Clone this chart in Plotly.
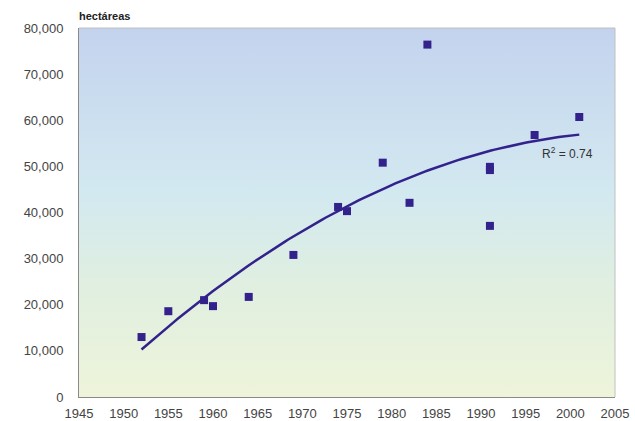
import numpy as np
import plotly.graph_objects as go

# Surface planted per survey year (hectares)
years = [1952, 1955, 1959, 1960, 1964, 1969, 1974, 1975, 1979, 1982, 1984,
         1991, 1991, 1991, 1996, 2001]
hectares = [13000, 18600, 21000, 19700, 21700, 30800, 41200, 40300, 50800,
            42100, 76400, 49900, 49200, 37100, 56800, 60700]

x_ticks = list(range(1945, 2006, 5))
y_ticks = list(range(0, 80001, 10000))

# Second-order polynomial trend
coef = np.polyfit(years, hectares, 2)
poly = np.poly1d(coef)
fit_x = np.linspace(min(years), max(years), 120)
fit_y = poly(fit_x)
pred = poly(np.array(years))
ss_res = np.sum((np.array(hectares) - pred) ** 2)
ss_tot = np.sum((np.array(hectares) - np.mean(hectares)) ** 2)
r2 = 1 - ss_res / ss_tot

ink = "#33228c"

fig = go.Figure()

# Gradient plot background
fig.add_trace(go.Scatter(
    x=[1945, 2005], y=[80000, 80000], mode="none", fill="tozeroy",
    fillgradient=dict(
        type="vertical", start=0, stop=80000,
        colorscale=[[0, "#eef4da"], [0.3, "#e0efe0"], [0.55, "#d3e9f0"],
                    [1, "#c3d3ee"]],
    ),
    hoverinfo="skip", showlegend=False,
))

fig.add_trace(go.Scatter(
    x=fit_x, y=fit_y, mode="lines",
    line=dict(color=ink, width=2.5), showlegend=False,
))

fig.add_trace(go.Scatter(
    x=years, y=hectares, mode="markers",
    marker=dict(symbol="square", size=8, color=ink),
    showlegend=False,
))

fig.add_annotation(
    x=2001, y=poly(2001), xref="x", yref="y",
    text=f"R<sup>2</sup> = {r2:.2f}", showarrow=False,
    xanchor="right", yanchor="top", yshift=-8, xshift=16,
    font=dict(family="Liberation Sans, Arial", size=12, color="#333333"),
)

fig.add_annotation(
    x=0, y=1, xref="paper", yref="paper", text="<b>hectáreas</b>",
    showarrow=False, xanchor="left", yanchor="bottom", yshift=4, xshift=-2,
    font=dict(family="Liberation Sans, Arial", size=11, color="#222222"),
)

fig.update_layout(
    width=635, height=421,
    margin=dict(l=79, r=20, t=28, b=24),
    paper_bgcolor="white", plot_bgcolor="white",
    font=dict(family="Liberation Sans, Arial", size=13, color="#444444"),
)
fig.update_xaxes(
    range=[1945, 2005], tickvals=x_ticks, showgrid=False, zeroline=False,
    showline=True, linecolor="#8a8a8a", linewidth=1, mirror=False,
    ticks="", ticklabelstandoff=4, automargin=False,
)
fig.update_yaxes(
    range=[0, 80000], tickvals=y_ticks, tickformat=",", showgrid=False,
    zeroline=False, showline=True, linecolor="#8a8a8a", linewidth=1,
    ticks="", ticklabelstandoff=12, automargin=False,
)
# Light frame on top and right
fig.add_shape(type="line", xref="paper", yref="paper", x0=0, x1=1, y0=1, y1=1,
              line=dict(color="#c0c0c0", width=1))
fig.add_shape(type="line", xref="paper", yref="paper", x0=1, x1=1, y0=0, y1=1,
              line=dict(color="#c0c0c0", width=1))

fig.write_html("out.html")
